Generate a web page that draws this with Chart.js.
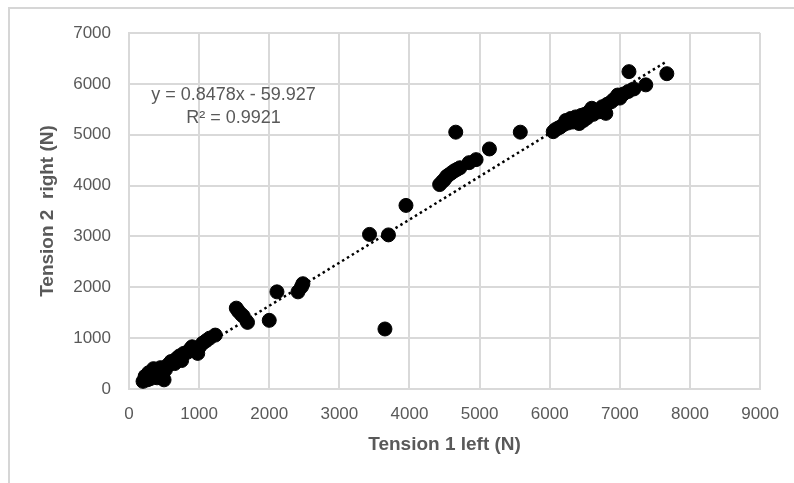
<!DOCTYPE html>
<html>
<head>
<meta charset="utf-8">
<script src="https://cdn.jsdelivr.net/npm/chart.js@4"></script>
<style>
  html, body { margin: 0; padding: 0; background: #ffffff; }
  #wrap { position: relative; width: 794px; height: 483px; overflow: hidden; }
  #frame { position: absolute; left: 8px; top: 7px; right: -4px; bottom: -4px;
           border-top: 2px solid #d6d6d6; border-left: 2px solid #d6d6d6; }
  canvas { position: absolute; left: 0; top: 0; }
</style>
</head>
<body>
<div id="wrap">
  <div id="frame"></div>
  <canvas id="c" width="794" height="483"></canvas>
</div>
<script>
// Tension measurements: left sensor (x) vs right sensor (y), in newtons
const tensionLeft = [
  200, 230, 260, 280, 300, 330, 350, 380, 400, 420, 450, 480, 500, 520,
  560, 600, 650, 680, 720, 750, 780, 830, 870, 900, 950, 980, 1000, 1050,
  1100, 1150, 1230,
  1530, 1560, 1600, 1630, 1690, 2000, 2110, 2410, 2460, 2480,
  3430, 3650, 3700, 3950,
  4430, 4470, 4500, 4530, 4560, 4600, 4640, 4680, 4720, 4850, 4950, 5140,
  4660, 5580,
  6050, 6080, 6120, 6150, 6200, 6230, 6260, 6300, 6330, 6370, 6400, 6420,
  6450, 6480, 6500, 6530, 6560, 6600, 6620, 6650, 6700, 6750, 6800, 6820,
  6880, 6920, 6970, 7000, 7050, 7120, 7200, 7130, 7370, 7670
];
const tensionRight = [
  150, 250, 180, 320, 200, 280, 400, 350, 220, 300, 420, 260, 180, 380,
  480, 540, 500, 600, 650, 560, 700, 720, 780, 830, 750, 700, 820, 900,
  950, 1000, 1060,
  1590, 1530, 1470, 1430, 1310, 1350, 1910, 1910, 2010, 2070,
  3040, 1180, 3030, 3610,
  4020, 4080, 4120, 4180, 4210, 4250, 4290, 4320, 4350, 4450, 4510, 4720,
  5050, 5050,
  5060, 5100, 5130, 5150, 5200, 5280, 5230, 5320, 5250, 5350, 5300, 5220,
  5380, 5280, 5400, 5330, 5450, 5520, 5400, 5480, 5450, 5550, 5420, 5600,
  5650, 5700, 5780, 5720, 5800, 5850, 5900, 6240, 5980, 6200
];

// Linear trendline as reported
const trendSlope = 0.8478;
const trendIntercept = -59.927;
const trendLabel = ['y = 0.8478x - 59.927', 'R\u00b2 = 0.9921'];

const xTicks = [0, 1000, 2000, 3000, 4000, 5000, 6000, 7000, 8000, 9000];
const yTicks = [0, 1000, 2000, 3000, 4000, 5000, 6000, 7000];

const points = tensionLeft.map((x, i) => ({ x: x, y: tensionRight[i] }));
const xMin = Math.min(...tensionLeft);
const xMax = Math.max(...tensionLeft);
const trendPoints = [xMin, xMax].map(x => ({ x: x, y: trendSlope * x + trendIntercept }));

const textGray = '#595959';
const gridGray = '#d9d9d9';
const family = '"Liberation Sans", Arial, sans-serif';

// Draws the trendline equation inside the plot
const equationPlugin = {
  id: 'equation',
  afterDatasetsDraw(chart) {
    const { ctx, scales } = chart;
    const cx = scales.x.getPixelForValue(1490);
    const y0 = scales.y.getPixelForValue(5790);
    ctx.save();
    ctx.font = '18px ' + family;
    ctx.fillStyle = textGray;
    ctx.textAlign = 'center';
    ctx.textBaseline = 'middle';
    ctx.fillText(trendLabel[0], cx, y0);
    ctx.fillText(trendLabel[1], cx, y0 + 23);
    ctx.restore();
  }
};

new Chart(document.getElementById('c'), {
  type: 'scatter',
  data: {
    datasets: [
      {
        label: 'Tension',
        data: points,
        backgroundColor: '#000000',
        borderColor: '#000000',
        pointRadius: 7,
        pointHoverRadius: 7,
        order: 2
      },
      {
        type: 'line',
        label: 'Linear',
        data: trendPoints,
        borderColor: '#000000',
        borderWidth: 2.5,
        borderDash: [2.5, 3.2],
        pointRadius: 0,
        fill: false,
        order: 1
      }
    ]
  },
  options: {
    responsive: false,
    animation: false,
    events: [],
    layout: { padding: { left: 0, top: 33, right: 31, bottom: 0 } },
    plugins: {
      legend: { display: false },
      tooltip: { enabled: false }
    },
    scales: {
      x: {
        type: 'linear',
        min: 0,
        max: 9000,
        afterBuildTicks(scale) { scale.ticks = xTicks.map(v => ({ value: v })); },
        afterFit(scale) { scale.height = 94; },
        grid: { color: gridGray, lineWidth: 2, drawTicks: false },
        border: { color: gridGray, width: 2 },
        ticks: {
          color: textGray,
          padding: 15,
          maxRotation: 0,
          callback: v => String(v),
          font: { family: family, size: 17 }
        },
        title: {
          display: true,
          text: 'Tension 1 left (N)',
          color: textGray,
          padding: { top: 0, bottom: 27 },
          font: { family: family, size: 19, weight: 'bold' }
        }
      },
      y: {
        type: 'linear',
        min: 0,
        max: 7000,
        afterBuildTicks(scale) { scale.ticks = yTicks.map(v => ({ value: v })); },
        afterFit(scale) { scale.width = 129; },
        grid: { color: gridGray, lineWidth: 2, drawTicks: false },
        border: { color: gridGray, width: 2 },
        ticks: {
          color: textGray,
          padding: 18,
          callback: v => String(v),
          font: { family: family, size: 17 }
        },
        title: {
          display: true,
          text: 'Tension 2  right (N)',
          color: textGray,
          padding: { top: 36, bottom: 0 },
          font: { family: family, size: 19, weight: 'bold' }
        }
      }
    }
  },
  plugins: [equationPlugin]
});
</script>
</body>
</html>
